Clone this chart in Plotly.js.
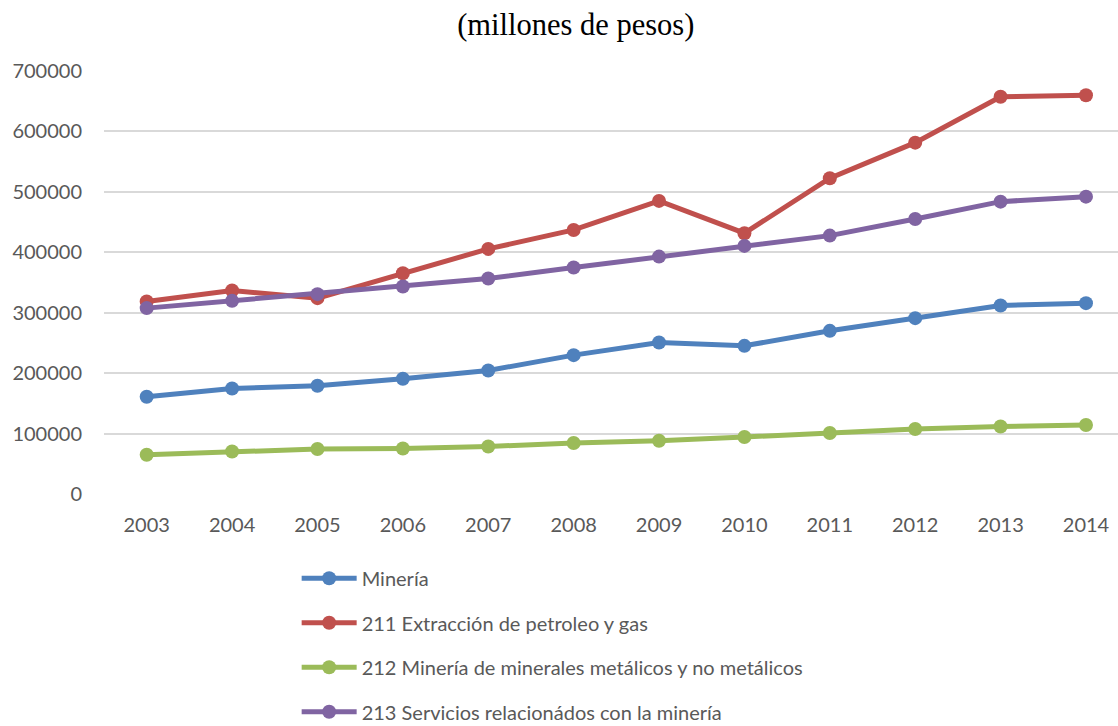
<!DOCTYPE html>
<html>
<head>
<meta charset="utf-8">
<script src="https://cdn.plot.ly/plotly-3.0.1.min.js"></script>
<style>html,body{margin:0;padding:0;background:#fff;}#chart{width:1118px;height:726px;}</style>
</head>
<body>
<div id="chart"></div>
<script>
const years = ["2003","2004","2005","2006","2007","2008","2009","2010","2011","2012","2013","2014"];
const mineria = [160900,174600,179100,190700,204400,229800,250700,245200,270000,291000,311900,315800];
const extraccion211 = [318500,336700,324100,365400,405600,437000,485000,431600,522500,581400,657500,659800];
const metalicos212 = [65000,70400,74400,75400,78700,84300,88100,94300,100900,107500,111800,114100];
const servicios213 = [307600,319600,330700,343300,356500,374700,392900,410600,427600,455200,483800,492100];
const seriesNames = ["Minería","211 Extracción de petroleo y gas","212 Minería de minerales metálicos y no metálicos","213 Servicios relacionádos con la minería"];
const seriesColors = ["#4F81BD","#C0504D","#9BBB59","#8064A2"];
const seriesData = [mineria, extraccion211, metalicos212, servicios213];

const data = seriesData.map((d,i)=>({
  x: years, y: d, name: seriesNames[i], type: 'scatter', mode: 'lines+markers',
  line: {color: seriesColors[i], width: 5},
  marker: {color: seriesColors[i], size: 14},
  legendgroup: 'g'+i
}));

const layout = {
  width: 1118, height: 726,
  paper_bgcolor: '#fff', plot_bgcolor: '#fff',
  margin: {l: 104, r: 0, t: 71, b: 232, autoexpand: false},
  font: {family: 'Lato, "Open Sans", sans-serif', color: '#595959', size: 20},
  title: {text: '(millones de pesos)', font: {family: '"Liberation Serif", "DejaVu Serif", serif', size: 30.5, color: '#000'},
          x: 0.515, xanchor: 'center', xref: 'container', y: 0.967, yanchor: 'middle'},
  xaxis: {type: 'category', range: [-0.5, 11.375], showgrid: false, zeroline: false,
          showline: false, ticks: '', tickfont: {size: 20, color: '#595959'}, ticklabelstandoff: 17},
  yaxis: {range: [0, 700000], dtick: 100000, tickformat: 'd', showgrid: true, gridcolor: '#D9D9D9', gridwidth: 2,
          zeroline: false, showline: false, ticks: '', tickfont: {size: 20, color: '#595959'}, ticklabelstandoff: 21},
  showlegend: true,
  legend: {orientation: 'v', x: 0.19, xanchor: 'left', y: -0.153, yanchor: 'top',
           font: {size: 20, color: '#595959'}, traceorder: 'grouped', tracegroupgap: 15.5,
           bgcolor: 'rgba(0,0,0,0)', itemwidth: 55}
};
Plotly.newPlot('chart', data, layout, {displayModeBar: false, staticPlot: true});
</script>
</body>
</html>
